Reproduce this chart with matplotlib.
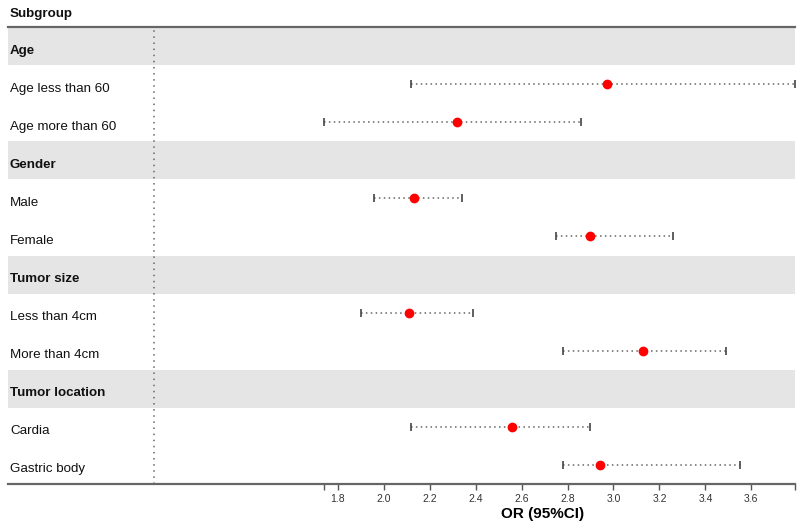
import matplotlib
matplotlib.use('Agg')
import matplotlib.pyplot as plt
import matplotlib.transforms as mtransforms
import numpy as np

plt.rcParams['font.family'] = ['Liberation Sans', 'DejaVu Sans']

# Dados do forest plot
subgroups = ['Age', 'Age less than 60', 'Age more than 60',
             'Gender', 'Male', 'Female',
             'Tumor size', 'Less than 4cm', 'More than 4cm',
             'Tumor location', 'Cardia', 'Gastric body']
is_header = [True, False, False, True, False, False,
             True, False, False, True, False, False]
or_vals = [np.nan, 2.97, 2.32, np.nan, 2.13, 2.90,
           np.nan, 2.11, 3.13, np.nan, 2.56, 2.94]
ci_low = [np.nan, 2.12, 1.74, np.nan, 1.96, 2.75,
          np.nan, 1.90, 2.78, np.nan, 2.12, 2.78]
ci_high = [np.nan, 3.79, 2.86, np.nan, 2.34, 3.26,
           np.nan, 2.39, 3.49, np.nan, 2.90, 3.55]
xticks = [1.8, 2.0, 2.2, 2.4, 2.6, 2.8, 3.0, 3.2, 3.4, 3.6]
ref_value = 1.0

W, H = 800, 523
fig = plt.figure(figsize=(8, 5.23), dpi=100)
left_px, right_px, top_px, bot_px = 8, 795, 27, 484
ax = fig.add_axes([left_px / W, (H - bot_px) / H,
                   (right_px - left_px) / W, (bot_px - top_px) / H])

n = len(subgroups)
y = np.arange(n) + 0.5
or_vals = np.array(or_vals)
ci_low = np.array(ci_low)
ci_high = np.array(ci_high)

# escala: 1.8 em x=338 px, 230 px por unidade
ax.set_xlim(1.8 + (left_px - 338) / 230, 1.8 + (right_px - 338) / 230)
ax.set_ylim(n, 0)

for i, h in enumerate(is_header):
    if h:
        ax.axhspan(i, i + 1, color='#e5e5e5', lw=0, zorder=0)

ax.axvline(ref_value, color='#666666', lw=1.1, linestyle=(0, (1, 3)), zorder=1)

ax.hlines(y, ci_low, ci_high, color='#666666', lw=1.1,
          linestyles=[(0, (1, 2.2))], zorder=2)
ax.plot(ci_low, y, ls='none', marker='|', ms=6, mew=1.2, color='#444444', zorder=3)
ax.plot(ci_high, y, ls='none', marker='|', ms=6, mew=1.2, color='#444444', zorder=3)
ax.plot(or_vals, y, ls='none', marker='o', ms=6, color='red', zorder=4)

# rótulos: linha de base ~7 px abaixo do centro da linha
row_px = (bot_px - top_px) / n
trans = mtransforms.blended_transform_factory(ax.transAxes, ax.transData)
for i, (lab, h) in enumerate(zip(subgroups, is_header)):
    ax.text(2 / (right_px - left_px), i + 0.5 + 7.5 / row_px, lab, transform=trans,
            va='baseline', ha='left', fontsize=9.6,
            fontweight='bold' if h else 'normal', color='#111111')

fig.text(10 / W, 1 - 17 / H, 'Subgroup', fontsize=9.6, fontweight='bold',
         va='baseline', ha='left', color='#111111')

for s in ['left', 'right']:
    ax.spines[s].set_visible(False)
for s in ['top', 'bottom']:
    ax.spines[s].set_color('#666666')
    ax.spines[s].set_linewidth(1.6)

ax.set_yticks([])
ax.set_xticks(xticks)
ax.set_xticklabels([f'{t:.1f}' for t in xticks])
ax.set_xticks([np.nanmin(ci_low), np.nanmax(ci_high)], minor=True)
ax.tick_params(axis='x', which='both', direction='out', length=4, width=1,
               color='#555555', labelsize=7.5, labelcolor='#333333', pad=3)

ax.set_xlabel('OR (95%CI)', fontsize=11, fontweight='bold')
ax.xaxis.set_label_coords((543 - left_px) / (right_px - left_px), -0.05)

fig.savefig('out.png', dpi=100)
